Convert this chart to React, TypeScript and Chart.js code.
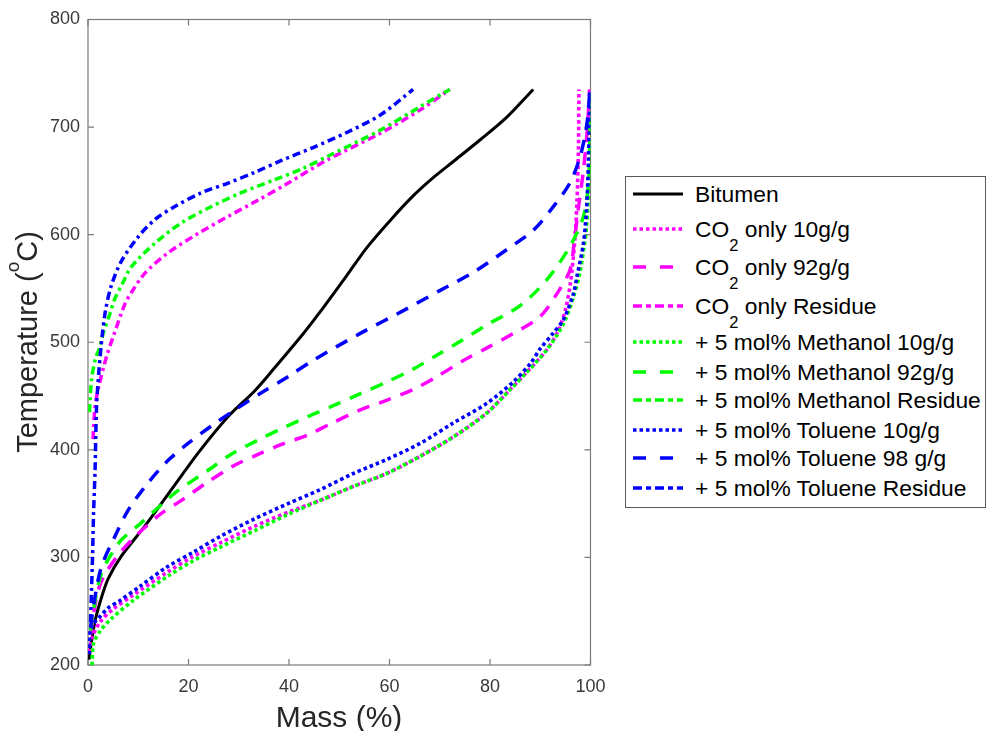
import React, { useEffect, useRef } from 'react';
import { Chart, registerables } from 'chart.js';

Chart.register(...registerables);

// ---------- data (mass % , temperature °C) ----------
const bitumenMass = [0.2, 0.8, 1.5, 2.5, 4.0, 6.6, 11.3, 16.6, 21.9, 27.9, 33.2, 37.1, 42.5, 46.0, 51.5, 55.5, 60.1, 64.7, 68.7, 72.7, 78.0, 83.3, 88.6];
const bitumenTemp = [205, 225, 243, 260, 280, 301, 329, 363, 397, 431, 455, 476, 506, 527, 562, 588, 613, 636, 653, 668, 688, 709, 735];

const co2_10Mass = [0.3, 0.8, 2.4, 5.0, 9.0, 15.7, 21.0, 26.5, 33.2, 39.8, 46.2, 52.8, 59.4, 66.1, 72.7, 79.3, 84.0, 87.3, 91.3, 93.5, 95.0, 96.0, 96.8, 97.3, 97.6, 97.7];
const co2_10Temp = [212, 225, 240, 252, 265, 286, 301, 314, 329, 342, 353, 366, 378, 394, 412, 434, 456, 472, 493, 510, 530, 555, 590, 630, 680, 735];

const co2_92Mass = [0.5, 1.5, 2.5, 4.0, 6.5, 9.3, 11.6, 14.6, 18.6, 23.5, 28.9, 33.5, 38.5, 43.8, 48.2, 54.1, 59.4, 64.7, 69.4, 74.7, 79.5, 84.6, 90.0, 93.3, 95.9, 96.8, 97.6, 98.6, 99.4, 99.8];
const co2_92Temp = [228, 258, 276, 289, 305, 319, 329, 341, 353, 369, 385, 395, 405, 414, 424, 437, 446, 456, 468, 483, 495, 508, 524, 545, 567, 595, 625, 660, 700, 735];

const co2ResMass = [1.0, 1.4, 2.2, 3.7, 5.0, 7.3, 8.6, 11.3, 15.9, 21.9, 27.9, 33.8, 39.5, 47.8, 58.1, 66.1, 72.0];
const co2ResTemp = [410, 440, 460, 487, 505, 535, 546, 564, 583, 601, 617, 632, 647, 670, 694, 716, 735];

const meth10Mass = [0.8, 1.1, 2.5, 4.4, 9.0, 15.7, 21.0, 26.5, 33.2, 39.8, 46.2, 52.8, 59.4, 66.1, 72.7, 79.3, 84.0, 87.3, 91.3, 94.6, 96.6, 97.9, 99.2, 99.8, 100];
const meth10Temp = [200, 220, 232, 242, 260, 282, 297, 310, 325, 340, 353, 366, 378, 394, 412, 434, 456, 472, 493, 517, 542, 565, 607, 669, 735];

const meth92Mass = [0.5, 1.5, 2.65, 4.0, 6.6, 10.3, 14.6, 17.9, 23.9, 28.5, 33.8, 39.1, 43.8, 48.8, 54.1, 59.4, 64.7, 69.4, 74.5, 79.3, 86.0, 91.3, 95.9, 98.6, 99.6, 99.9, 100];
const meth92Temp = [232, 262, 285, 298, 316, 331, 349, 362, 381, 396, 409, 421, 431, 441, 452, 463, 475, 488, 502, 516, 534, 558, 589, 617, 648, 700, 735];

const methResMass = [0.3, 0.7, 1.5, 2.4, 3.0, 4.4, 5.3, 7.0, 8.6, 13.3, 18.6, 24.5, 30.5, 37.1, 42.5, 48.2, 58.1, 66.1, 72.0];
const methResTemp = [435, 465, 485, 496, 508, 527, 540, 556, 570, 592, 611, 626, 639, 651, 661, 674, 697, 719, 735];

const tol10Mass = [0.2, 0.4, 1.0, 2.4, 4.0, 6.4, 10.3, 15.7, 21.0, 26.5, 33.2, 39.8, 46.2, 52.8, 59.4, 66.1, 72.7, 79.3, 84.6, 88.0, 90.0, 92.5, 94.6, 96.6, 97.3, 98.6, 99.2, 99.6, 99.9];
const tol10Temp = [210, 230, 238, 245, 253, 260, 273, 291, 305, 320, 336, 350, 363, 378, 391, 406, 425, 443, 463, 480, 494, 508, 521, 545, 561, 592, 623, 669, 735];

const tol98Mass = [0.5, 1.2, 2.65, 5.3, 8.0, 11.9, 15.9, 19.9, 24.5, 29.2, 34.5, 39.8, 45.1, 54.1, 63.4, 70.0, 76.7, 83.3, 88.6, 92.6, 95.9, 97.9, 99.2, 99.9];
const tol98Temp = [235, 258, 291, 319, 344, 369, 390, 406, 422, 437, 453, 468, 484, 508, 531, 548, 565, 586, 604, 626, 648, 672, 700, 735];

const tolResMass = [0.5, 0.7, 0.9, 1.1, 1.4, 1.7, 2.2, 2.8, 3.5, 4.6, 6.6, 10.0, 13.3, 17.2, 22.6, 27.9, 33.2, 38.5, 44.8, 51.5, 58.1, 64.7];
const tolResTemp = [240, 270, 300, 340, 380, 440, 475, 505, 530, 552, 575, 598, 614, 626, 639, 648, 658, 669, 681, 695, 711, 735];

const xTickValues = [0, 20, 40, 60, 80, 100];
const yTickValues = [200, 300, 400, 500, 600, 700, 800];

const seriesLabels = [
  'Bitumen',
  'CO2 only 10g/g',
  'CO2 only 92g/g',
  'CO2 only Residue',
  '+ 5 mol% Methanol 10g/g',
  '+ 5 mol% Methanol 92g/g',
  '+ 5 mol% Methanol Residue',
  '+ 5 mol% Toluene 10g/g',
  '+ 5 mol% Toluene 98 g/g',
  '+ 5 mol% Toluene Residue',
];

const seriesData: [number[], number[]][] = [
  [bitumenMass, bitumenTemp],
  [co2_10Mass, co2_10Temp],
  [co2_92Mass, co2_92Temp],
  [co2ResMass, co2ResTemp],
  [meth10Mass, meth10Temp],
  [meth92Mass, meth92Temp],
  [methResMass, methResTemp],
  [tol10Mass, tol10Temp],
  [tol98Mass, tol98Temp],
  [tolResMass, tolResTemp],
];

// ---------- styles ----------
const BLACK = '#000000';
const MAGENTA = '#ff00ff';
const GREEN = '#00ff00';
const BLUE = '#0000ff';

type LineStyle = 'solid' | 'dotted' | 'dashed' | 'dashdot';
const seriesColors = [BLACK, MAGENTA, MAGENTA, MAGENTA, GREEN, GREEN, GREEN, BLUE, BLUE, BLUE];
const seriesStyles: LineStyle[] = ['solid', 'dotted', 'dashed', 'dashdot', 'dotted', 'dashed', 'dashdot', 'dotted', 'dashed', 'dashdot'];

const chartDash: Record<LineStyle, number[]> = {
  solid: [],
  dotted: [3.5, 3],
  dashed: [13, 10],
  dashdot: [8, 4, 3, 4],
};
const legendDash: Record<LineStyle, string> = {
  solid: '',
  dotted: '3.5,3',
  dashed: '13,14',
  dashdot: '9,4,5,4',
};
const lineWidths: Record<LineStyle, number> = {
  solid: 3,
  dotted: 3.6,
  dashed: 3.5,
  dashdot: 3.5,
};

const legendRowY = [194, 229, 267, 306, 342, 372, 400, 430, 458, 488];

const FONT = '"Liberation Sans", Arial, Helvetica, sans-serif';

const boxPlugin = {
  id: 'matlabBox',
  beforeDatasetsDraw(chart: any) {
    const { ctx, chartArea, scales } = chart;
    const { left, right, top, bottom } = chartArea;
    ctx.save();
    ctx.strokeStyle = '#7a7a7a';
    ctx.lineWidth = 1.2;
    ctx.strokeRect(left, top, right - left, bottom - top);
    ctx.beginPath();
    for (const v of xTickValues) {
      const px = scales.x.getPixelForValue(v);
      ctx.moveTo(px, bottom);
      ctx.lineTo(px, bottom - 6);
      ctx.moveTo(px, top);
      ctx.lineTo(px, top + 6);
    }
    for (const v of yTickValues) {
      const py = scales.y.getPixelForValue(v);
      ctx.moveTo(left, py);
      ctx.lineTo(left + 6, py);
      ctx.moveTo(right, py);
      ctx.lineTo(right - 6, py);
    }
    ctx.stroke();
    ctx.restore();
  },
};

function LegendLabel({ text }: { text: string }) {
  if (text.startsWith('CO2')) {
    return (
      <span>
        CO
        <span style={{ fontSize: 16.5, position: 'relative', top: 14, lineHeight: 0 }}>2</span>
        {text.slice(3)}
      </span>
    );
  }
  return <span>{text}</span>;
}

export default function App() {
  const canvasRef = useRef<HTMLCanvasElement | null>(null);

  useEffect(() => {
    const canvas = canvasRef.current;
    if (!canvas) return;
    const datasets = seriesData.map(([mass, temp], i) => ({
      label: seriesLabels[i],
      data: mass.map((m, k) => ({ x: m, y: temp[k] })),
      showLine: true,
      borderColor: seriesColors[i],
      backgroundColor: seriesColors[i],
      borderWidth: lineWidths[seriesStyles[i]],
      borderDash: chartDash[seriesStyles[i]],
      borderCapStyle: 'butt' as const,
      pointRadius: 0,
      pointHoverRadius: 0,
      tension: 0.3,
      fill: false,
      order: -i,
    }));

    const chart = new Chart(canvas, {
      type: 'scatter',
      data: { datasets },
      plugins: [boxPlugin],
      options: {
        animation: false,
        responsive: false,
        devicePixelRatio: 1,
        layout: { padding: { top: 19.5, right: 397.5, bottom: 0, left: 0 } },
        plugins: {
          legend: { display: false },
          tooltip: { enabled: false },
          title: { display: false },
        },
        scales: {
          x: {
            type: 'linear',
            min: 0,
            max: 100,
            afterBuildTicks: (scale: any) => {
              scale.ticks = xTickValues.map((v) => ({ value: v }));
            },
            afterFit: (scale: any) => {
              scale.height = 66;
            },
            grid: { display: false, drawTicks: false },
            border: { display: false },
            ticks: {
              padding: 11,
              color: '#3a3a3a',
              font: { family: FONT, size: 18 },
              maxRotation: 0,
            },
          },
          y: {
            type: 'linear',
            min: 200,
            max: 800,
            afterBuildTicks: (scale: any) => {
              scale.ticks = yTickValues.map((v) => ({ value: v }));
            },
            afterFit: (scale: any) => {
              scale.width = 88;
            },
            grid: { display: false, drawTicks: false },
            border: { display: false },
            ticks: {
              padding: 8,
              color: '#3a3a3a',
              font: { family: FONT, size: 18 },
            },
          },
        },
      },
    });
    return () => {
      chart.destroy();
    };
  }, []);

  return (
    <div
      style={{
        position: 'fixed',
        left: 0,
        top: 0,
        width: 988,
        height: 731,
        background: '#ffffff',
        fontFamily: FONT,
        overflow: 'hidden',
      }}
    >
      <canvas
        ref={canvasRef}
        width={988}
        height={731}
        style={{ position: 'absolute', left: 0, top: 0, width: 988, height: 731 }}
      />
      {/* y-axis title */}
      <div
        style={{
          position: 'absolute',
          left: 27 - 160,
          top: 342 - 17,
          width: 320,
          height: 34,
          lineHeight: '34px',
          textAlign: 'center',
          transform: 'rotate(-90deg)',
          fontSize: 29,
          color: '#262626',
          whiteSpace: 'nowrap',
        }}
      >
        Temperature (
        <span style={{ fontSize: 19, position: 'relative', top: -18, lineHeight: 0 }}>o</span>
        C)
      </div>
      {/* x-axis title */}
      <div
        style={{
          position: 'absolute',
          left: 339 - 160,
          top: 717 - 17,
          width: 320,
          height: 34,
          lineHeight: '34px',
          textAlign: 'center',
          fontSize: 30,
          color: '#262626',
          whiteSpace: 'nowrap',
        }}
      >
        Mass (%)
      </div>
      {/* legend */}
      <div
        style={{
          position: 'absolute',
          left: 625,
          top: 176,
          width: 361,
          height: 332,
          border: '1px solid #5a5a5a',
          background: '#ffffff',
          boxSizing: 'border-box',
        }}
      />
      {seriesLabels.map((label, i) => {
        const yc = legendRowY[i];
        const style = seriesStyles[i];
        return (
          <React.Fragment key={label}>
            <svg
              style={{ position: 'absolute', left: 633, top: yc - 5, width: 52, height: 10, overflow: 'visible' }}
              width={52}
              height={10}
            >
              <line
                x1={0}
                y1={5}
                x2={50}
                y2={5}
                stroke={seriesColors[i]}
                strokeWidth={lineWidths[style]}
                strokeDasharray={legendDash[style] || undefined}
                strokeLinecap="butt"
              />
            </svg>
            <div
              style={{
                position: 'absolute',
                left: 695,
                top: yc - 13.2,
                height: 26,
                lineHeight: '26px',
                fontSize: 22.8,
                color: '#000000',
                whiteSpace: 'nowrap',
              }}
            >
              <LegendLabel text={label} />
            </div>
          </React.Fragment>
        );
      })}
    </div>
  );
}
